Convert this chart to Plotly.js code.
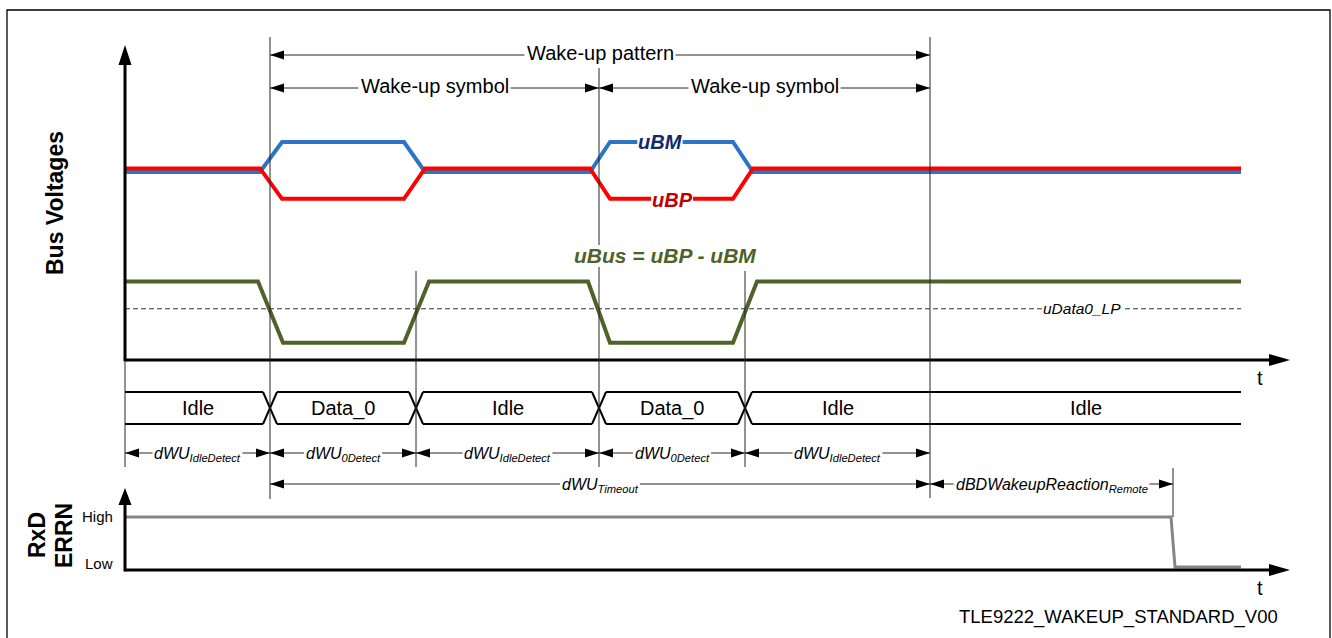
<!DOCTYPE html>
<html><head><meta charset="utf-8">
<script src="https://cdn.plot.ly/plotly-3.0.1.min.js"></script>
<style>html,body{margin:0;padding:0;background:#fff;}#chart{width:1332px;height:638px;}</style>
</head><body><div id="chart"></div>
<script>
// ---------------- data (time in arbitrary units, levels in arbitrary volts) ----------------
const busTime      = [0, 135, 157, 279, 300, 465, 485, 608, 628, 1116];
const uBM          = [4.70, 4.70, 5.45, 5.45, 4.70, 4.70, 5.45, 5.45, 4.70, 4.70];
const uBP          = [4.79, 4.79, 4.03, 4.03, 4.79, 4.79, 4.03, 4.03, 4.79, 4.79];
const busDiffTime  = [0, 133, 158, 279, 304, 463, 485, 608, 632, 1116];
const uBus         = [1.96, 1.96, 0.43, 0.43, 1.96, 1.96, 0.43, 0.43, 1.96, 1.96];
const uData0LP     = 1.28;
const stateEdges   = [0, 145, 291, 474, 620, 805, 1116];
const stateLabels  = ['Idle', 'Data_0', 'Idle', 'Data_0', 'Idle', 'Idle'];
const dimMain      = ['dWU', 'dWU', 'dWU', 'dWU', 'dWU'];
const dimSub       = ['IdleDetect', '0Detect', 'IdleDetect', '0Detect', 'IdleDetect'];
const timeoutSpan  = [145, 805];
const reactionSpan = [805, 1048];
const rxdTime      = [0, 1046, 1050, 1116];
const rxdLevel     = [1, 1, 0, 0];
const rxdTickVals  = [0, 1];
const rxdTickText  = ['Low', 'High'];

// ---------------- layout helpers ----------------
const FONT = 'Liberation Sans, Arial, Helvetica, sans-serif';
const W = 1332, H = 638;
const xRange = [-125, 1207];
const kx = (xRange[1] - xRange[0]) / W;          // data units per pixel
const X = px => xRange[0] + px * kx;               // pixel -> x data
const P = py => 1 - py / H;                        // pixel -> paper y
const shapes = [], annotations = [], boxes = [];
const GUIDE = '#262626';
const ctx = document.createElement('canvas').getContext('2d');
function textW(t, size, style, weight) {
  ctx.font = (style || 'normal') + ' ' + (weight || 'normal') + ' ' + size + 'px "Liberation Sans", Arial, sans-serif';
  return ctx.measureText(t).width;
}
function seg(x0, y0, x1, y1, color, width) {
  shapes.push({type: 'line', xref: 'x', yref: 'paper', x0: x0, y0: P(y0), x1: x1, y1: P(y1),
               line: {color: color, width: width}, layer: 'above'});
}
function tri(x, y, dir, len, half) {
  let pts;
  if (dir === 'r') pts = [[x, y], [x - len * kx, y - half], [x - len * kx, y + half]];
  else if (dir === 'l') pts = [[x, y], [x + len * kx, y - half], [x + len * kx, y + half]];
  else pts = [[x, y], [x - half * kx, y + len], [x + half * kx, y + len]];
  const d = 'M' + pts.map(p => p[0] + ',' + P(p[1])).join('L') + 'Z';
  shapes.push({type: 'path', xref: 'x', yref: 'paper', path: d, fillcolor: '#000',
               line: {width: 0}, layer: 'above'});
}
// double arrow with a gap of gapPx pixels in the middle for its label
function dimArrow(t0, t1, y, gapPx) {
  const m = (t0 + t1) / 2, g = (gapPx || 0) / 2 * kx;
  if (g > 0) { seg(t0, y, m - g, y, GUIDE, 1); seg(m + g, y, t1, y, GUIDE, 1); }
  else seg(t0, y, t1, y, GUIDE, 1);
  tri(t0, y, 'l', 14, 4.5);
  tri(t1, y, 'r', 14, 4.5);
}
function knock(x, yref, y, w, h) {
  boxes.push({type: 'rect', xref: 'x', yref: yref, xsizemode: 'pixel', xanchor: x, x0: -w / 2, x1: w / 2,
              ysizemode: 'pixel', yanchor: y, y0: -h / 2, y1: h / 2, fillcolor: '#fff', line: {width: 0}, layer: 'above'});
}
function label(x, y, text, font, opts) {
  annotations.push(Object.assign({x: x, y: y, xref: 'x', yref: 'paper', text: text, showarrow: false,
    font: Object.assign({family: FONT, color: '#000'}, font), xanchor: 'center', yanchor: 'middle'}, opts || {}));
}

// outer frame
shapes.push({type: 'rect', xref: 'paper', yref: 'paper', x0: 7 / W, x1: 1330 / W, y0: P(10), y1: P(660),
             line: {color: '#000', width: 1.3}, layer: 'below'});

// axes (arrows)
seg(0, 361.5, 0, 62, '#000', 3);  tri(0, 45, 'u', 20, 6.5);
seg(0, 360, X(1272), 360, '#000', 3); tri(X(1290), 360, 'r', 21, 6);
seg(0, 571.5, 0, 503, '#000', 3); tri(0, 488, 'u', 17, 6.5);
seg(0, 570, X(1272), 570, '#000', 3); tri(X(1290), 570, 'r', 21, 6);

// vertical guide lines (the one at the 2nd symbol start is interrupted by the uBus label)
seg(stateEdges[1], 37, stateEdges[1], 499, GUIDE, 1);
seg(stateEdges[3], 68, stateEdges[3], 245, GUIDE, 1);
seg(stateEdges[3], 267, stateEdges[3], 467, GUIDE, 1);
seg(stateEdges[5], 37, stateEdges[5], 498, GUIDE, 1);
seg(stateEdges[2], 271, stateEdges[2], 467, GUIDE, 1);
seg(stateEdges[4], 271, stateEdges[4], 467, GUIDE, 1);
seg(stateEdges[0], 362, stateEdges[0], 467, GUIDE, 1);
seg(reactionSpan[1], 468, reactionSpan[1], 517, GUIDE, 1);

// wake-up arrows
const F20 = {size: 20};
function topArrow(t0, t1, y, text) {
  dimArrow(t0, t1, y, textW(text, 20) + 4);
  label((t0 + t1) / 2, P(y - 2), text, F20);
}
topArrow(stateEdges[1], stateEdges[5], 55, 'Wake-up pattern');
topArrow(stateEdges[1], stateEdges[3], 88, 'Wake-up symbol');
topArrow(stateEdges[3], stateEdges[5], 88, 'Wake-up symbol');

// duration arrows
const FDIM = {size: 16, style: 'italic'};
function durArrow(t0, t1, y, main, sub) {
  const w = textW(main, 16, 'italic') + textW(sub, 11.2, 'italic') + 4;
  dimArrow(t0, t1, y, w);
  label((t0 + t1) / 2, P(y + 1), main + '<sub>' + sub + '</sub>', FDIM);
}
for (let i = 0; i < dimMain.length; i++) durArrow(stateEdges[i], stateEdges[i + 1], 453, dimMain[i], dimSub[i]);
durArrow(timeoutSpan[0], timeoutSpan[1], 484, 'dWU', 'Timeout');
durArrow(reactionSpan[0], reactionSpan[1], 484, 'dBDWakeupReaction', 'Remote');

// state bar (built from edges and labels)
const C = 7 * kx;
const sx = [], sy = [];
for (let i = 0; i < stateLabels.length; i++) {
  const lc = i > 0 && stateLabels[i - 1] !== stateLabels[i];
  const rc = i < stateLabels.length - 1 && stateLabels[i + 1] !== stateLabels[i];
  const a = stateEdges[i] + (lc ? C : 0), b = stateEdges[i + 1] - (rc ? C : 0);
  sx.push(a, b, null, a, b, null); sy.push(1, 1, null, 0, 0, null);
  if (rc) {
    const e = stateEdges[i + 1];
    sx.push(e - C, e + C, null, e - C, e + C, null); sy.push(1, 0, null, 0, 1, null);
  }
  label((stateEdges[i] + stateEdges[i + 1]) / 2, 0.5, stateLabels[i], F20, {yref: 'y3'});
}

// signal labels
function sigLabel(t, v, text, size, color, style, weight, pad, box) {
  if (box) knock(t, 'y', v, textW(text, size, style, weight) + 2 * pad, size * 0.95);
  label(t, v, text, {size: size, style: style, weight: weight, color: color}, {yref: 'y'});
}
sigLabel(535, 5.45, 'uBM', 20, '#13296b', 'italic', 'bold', 1, true);
sigLabel(547, 4.0, 'uBP', 20, '#c00000', 'italic', 'bold', 1, true);
sigLabel(540, 2.61, 'uBus = uBP - uBM', 21, '#4f6228', 'italic', 'bold', 2, false);
sigLabel(957, uData0LP, 'uData0_LP', 15.5, '#000', 'italic', 'normal', 1, true);

// RxD ticks
for (let i = 0; i < rxdTickVals.length; i++) {
  annotations.push({x: 115 / W, xref: 'paper', y: rxdTickVals[i], yref: 'y2', text: rxdTickText[i], showarrow: false,
    xanchor: 'right', yanchor: 'middle', yshift: i === 0 ? 4 : 1, font: {family: FONT, size: 15, color: '#000'}});
}

// fixed texts
function ptext(px, py, text, font, opts) {
  annotations.push(Object.assign({x: px / W, y: P(py), xref: 'paper', yref: 'paper', text: text, showarrow: false,
    xanchor: 'center', yanchor: 'middle', font: Object.assign({family: FONT, color: '#000'}, font)}, opts || {}));
}
const FB = {size: 23, weight: 'bold'};
ptext(55, 203, 'Bus Voltages', FB, {textangle: -90});
ptext(37, 535, 'RxD', FB, {textangle: -90});
ptext(64, 536, 'ERRN', FB, {textangle: -90});
ptext(1260, 378, 't', F20);
ptext(1260, 588, 't', F20);
ptext(1118, 617, 'TLE9222_WAKEUP_STANDARD_V00', {size: 18.5});

const traces = [
  {x: [busTime[0], busTime[busTime.length - 1]], y: [uData0LP, uData0LP], mode: 'lines', yaxis: 'y',
   line: {color: '#333', width: 1, dash: '5px,3px'}},
  {x: busDiffTime, y: uBus, mode: 'lines', yaxis: 'y', line: {color: '#4f6228', width: 4}},
  {x: busTime, y: uBM, mode: 'lines', yaxis: 'y', line: {color: '#2e74c6', width: 4}},
  {x: busTime, y: uBP, mode: 'lines', yaxis: 'y', line: {color: '#ff0000', width: 4}},
  {x: sx, y: sy, mode: 'lines', yaxis: 'y3', line: {color: '#000', width: 2}, connectgaps: false},
  {x: rxdTime, y: rxdLevel, mode: 'lines', yaxis: 'y2', line: {color: '#858585', width: 3}}
];

const layout = {
  width: W, height: H, margin: {l: 0, r: 0, t: 0, b: 0},
  paper_bgcolor: '#fff', plot_bgcolor: '#fff', showlegend: false, hovermode: false,
  xaxis: {range: xRange, visible: false, fixedrange: true},
  yaxis: {domain: [P(360), P(40)], range: [0, 8], visible: false, fixedrange: true},
  yaxis2: {domain: [P(570), P(500)], range: [-0.06, 1.34], visible: false, anchor: 'x', fixedrange: true},
  yaxis3: {domain: [P(427.2), P(388.8)], range: [-0.1, 1.1], visible: false, anchor: 'x', fixedrange: true},
  shapes: shapes.concat(boxes), annotations: annotations
};
Plotly.newPlot('chart', traces, layout, {staticPlot: true, displayModeBar: false});
</script>
</body></html>
